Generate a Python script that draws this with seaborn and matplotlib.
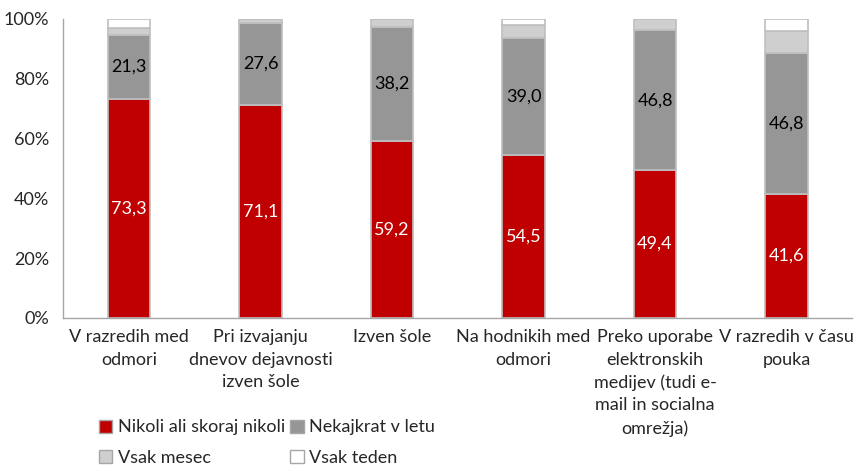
import matplotlib
matplotlib.use("Agg")
import matplotlib.pyplot as plt
import seaborn as sns
import numpy as np
from matplotlib.patches import Patch
from matplotlib.ticker import FuncFormatter

# categories (x axis)
categories = [
    "V razredih med\nodmori",
    "Pri izvajanju\ndnevov dejavnosti\nizven šole",
    "Izven šole",
    "Na hodnikih med\nodmori",
    "Preko uporabe\nelektronskih\nmedijev (tudi e-\nmail in socialna\nomrežja)",
    "V razredih v času\npouka",
]

# series values (%)
nikoli = [73.3, 71.1, 59.2, 54.5, 49.4, 41.6]
nekajkrat = [21.3, 27.6, 38.2, 39.0, 46.8, 46.8]
vsak_mesec = [2.4, 1.3, 2.6, 4.3, 3.8, 7.6]
vsak_teden = [3.0, 0.0, 0.0, 2.2, 0.0, 4.0]

series_names = ["Nikoli ali skoraj nikoli", "Nekajkrat v letu", "Vsak mesec", "Vsak teden"]
series_values = [nikoli, nekajkrat, vsak_mesec, vsak_teden]
colors = ["#C00000", "#969696", "#CFCFCF", "#FFFFFF"]

sns.set_style("white")
plt.rcParams["font.family"] = ["Lato", "DejaVu Sans"]

fig, ax = plt.subplots(figsize=(8.67, 4.69), dpi=100)
fig.subplots_adjust(left=0.073, right=0.983, top=0.96, bottom=0.322)

bottom = np.zeros(len(categories))
for name, vals, col in zip(series_names, series_values, colors):
    sns.barplot(x=categories, y=vals, bottom=bottom, color=col, width=0.32,
                edgecolor="#BFBFBF", linewidth=1.2, ax=ax, saturation=1)
    bottom = bottom + np.array(vals)

# value labels for the first two series
ax.bar_label(ax.containers[0], labels=[f"{v:.1f}".replace(".", ",") for v in nikoli],
             label_type="center", color="white", fontsize=13)
ax.bar_label(ax.containers[1], labels=[f"{v:.1f}".replace(".", ",") for v in nekajkrat],
             label_type="center", color="black", fontsize=13)

ax.set_ylim(0, 100)
ax.set_yticks(range(0, 101, 20))
ax.yaxis.set_major_formatter(FuncFormatter(lambda v, p: f"{int(v)}%"))
ax.set_xticks(range(len(categories)))
ax.set_xticklabels(categories, linespacing=1.5)
ax.tick_params(axis="both", labelsize=13, length=0)
ax.tick_params(axis="x", pad=8)
ax.tick_params(axis="y", pad=10)
for s in ["top", "right"]:
    ax.spines[s].set_visible(False)
for s in ["left", "bottom"]:
    ax.spines[s].set_color("#A6A6A6")
    ax.spines[s].set_linewidth(1)
ax.set_xlim(-0.5, len(categories) - 0.5)

# legend filled row by row: column-major order of handles
order = [0, 2, 1, 3]
handles = [Patch(facecolor=colors[i], edgecolor="#A6A6A6", label=series_names[i]) for i in order]
fig.legend(handles=handles, loc="lower left", bbox_to_anchor=(0.095, -0.028), ncol=2,
           frameon=False, fontsize=13, handlelength=0.75, handleheight=0.75,
           handletextpad=0.3, columnspacing=0.3, labelspacing=0.8)

fig.savefig("out.png", dpi=100)
